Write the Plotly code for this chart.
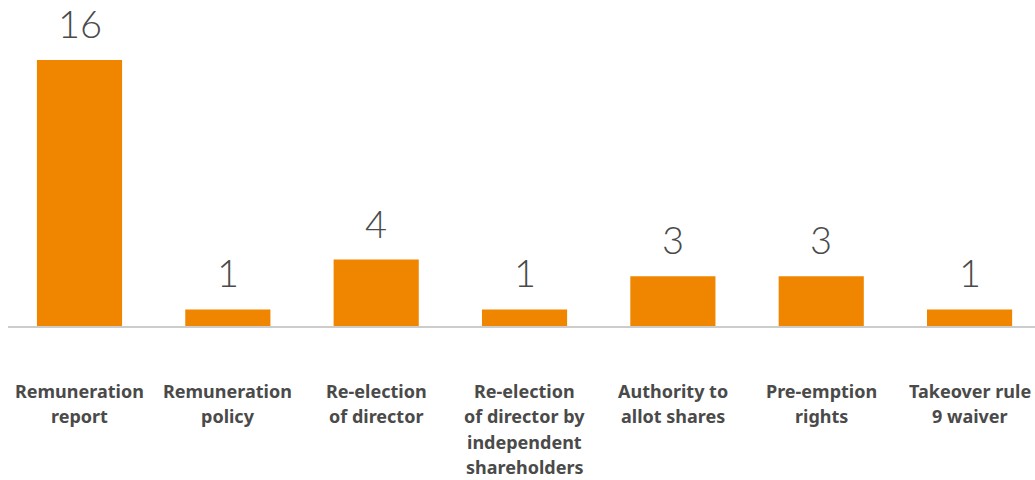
import plotly.graph_objects as go

# Resolution types (line breaks as shown under each bar) and number contested
categories = [
    "Remuneration<br>report",
    "Remuneration<br>policy",
    "Re-election<br>of director",
    "Re-election<br>of director by<br>independent<br>shareholders",
    "Authority to<br>allot shares",
    "Pre-emption<br>rights",
    "Takeover rule<br>9 waiver",
]
counts = [16, 1, 4, 1, 3, 3, 1]

BAR_COLOR = "#F08600"
TEXT_COLOR = "#4a4a4a"
LINE_GAP = 25.3  # px between category label lines

x_idx = list(range(len(categories)))

fig = go.Figure()
fig.add_trace(go.Bar(
    x=x_idx,
    y=counts,
    width=0.574,
    marker=dict(color=BAR_COLOR, line=dict(width=0)),
    hoverinfo="skip",
))

# Value labels above each bar
for xi, v in zip(x_idx, counts):
    fig.add_annotation(
        x=xi, y=v, text=str(v), showarrow=False,
        yanchor="bottom", yshift=12,
        font=dict(family="Lato", size=38, color=TEXT_COLOR, weight=300),
    )

# Category labels under the axis, one annotation per line
for xi, label in zip(x_idx, categories):
    for i, line in enumerate(label.split("<br>")):
        fig.add_annotation(
            x=xi, y=0, text=line, showarrow=False,
            yanchor="middle", yshift=-(65 + i * LINE_GAP),
            font=dict(family="Noto Sans", size=18, color=TEXT_COLOR, weight="bold"),
        )

fig.update_layout(
    width=1035, height=480,
    margin=dict(l=8, r=0, t=0, b=154),
    paper_bgcolor="white", plot_bgcolor="white",
    showlegend=False,
    xaxis=dict(
        range=[-0.482, 6.441],
        tickmode="array", tickvals=x_idx, showticklabels=False,
        showline=True, linecolor="#cccccc", linewidth=2,
        showgrid=False, zeroline=False, ticks="",
        fixedrange=True,
    ),
    yaxis=dict(
        range=[0, 19.61], visible=False, showgrid=False, zeroline=False,
        fixedrange=True,
    ),
)

fig.write_html("out.html")
